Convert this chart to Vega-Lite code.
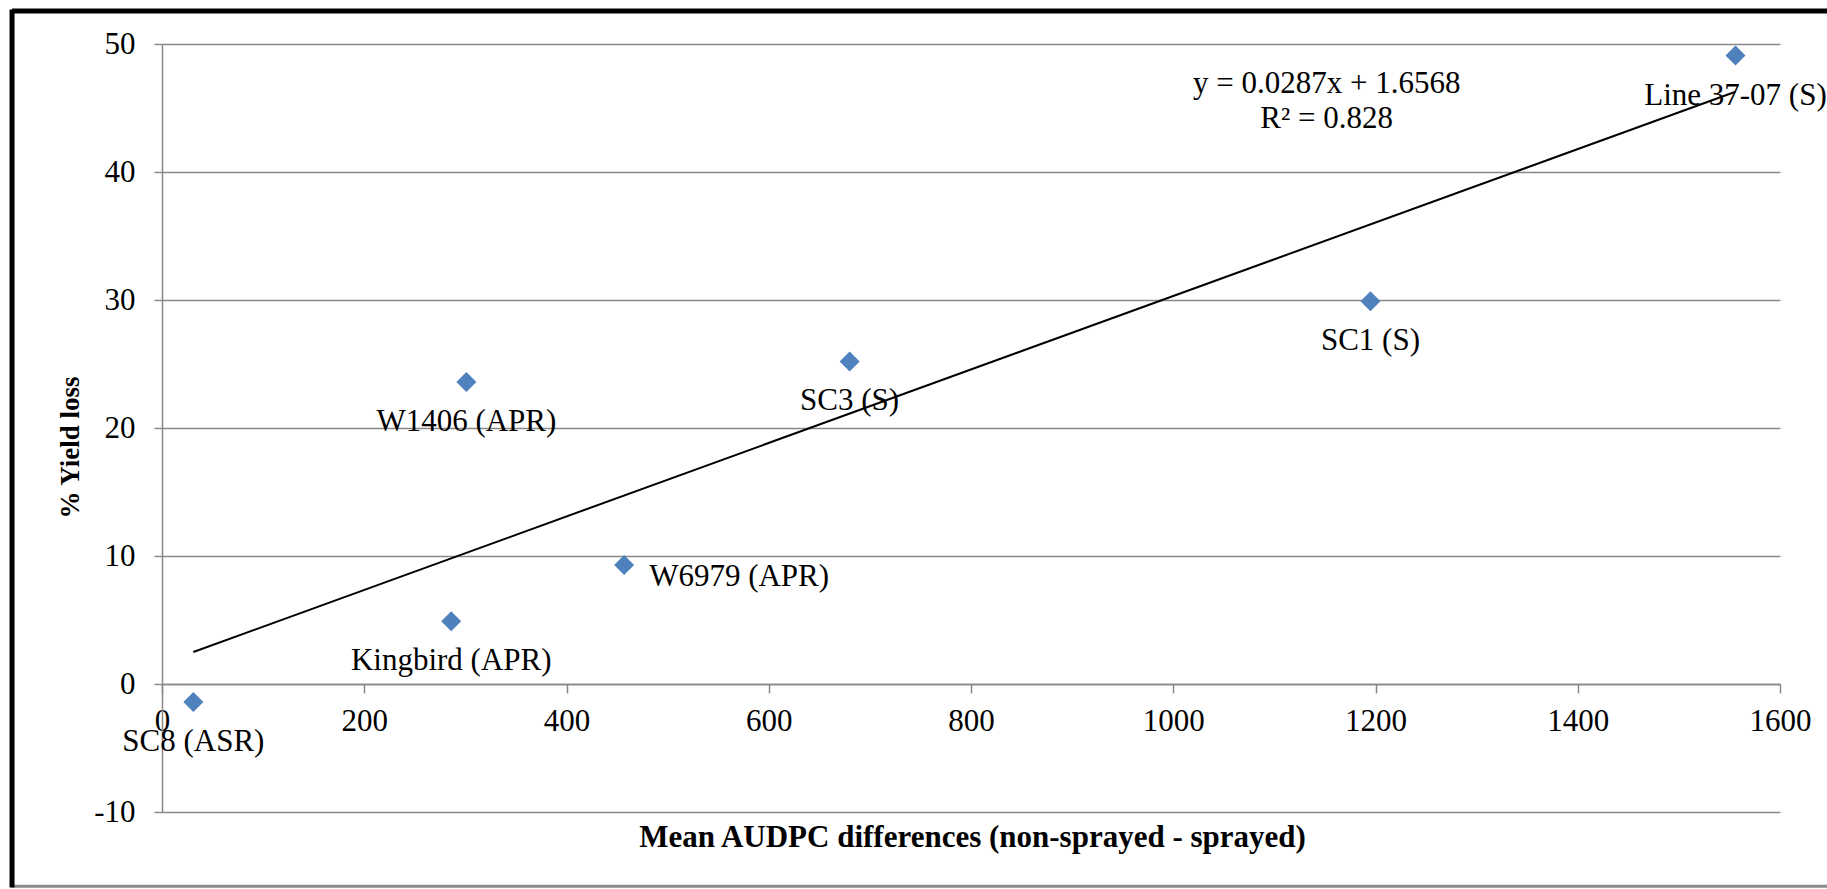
{
  "$schema": "https://vega.github.io/schema/vega-lite/v6.json",
  "width": 1618,
  "height": 768,
  "autosize": {"type": "none"},
  "padding": {"left": 162, "top": 44, "right": 47, "bottom": 77},
  "background": "white",
  "config": {
    "view": {"stroke": null},
    "font": "Liberation Serif",
    "text": {"font": "Liberation Serif"},
    "axis": {"labelFont": "Liberation Serif", "titleFont": "Liberation Serif"}
  },
  "data": {
    "values": [
      {"name": "SC8 (ASR)", "aud": 31, "yl": -1.4},
      {"name": "Kingbird (APR)", "aud": 286, "yl": 4.9},
      {"name": "W1406 (APR)", "aud": 301, "yl": 23.6},
      {"name": "W6979 (APR)", "aud": 457, "yl": 9.3},
      {"name": "SC3 (S)", "aud": 680, "yl": 25.2},
      {"name": "SC1 (S)", "aud": 1195, "yl": 29.9},
      {"name": "Line 37-07 (S)", "aud": 1556, "yl": 49.1}
    ]
  },
  "layer": [
    {
      "data": {"values": [{}]},
      "mark": {"type": "rule", "color": "black", "strokeWidth": 5},
      "encoding": {
        "x": {"datum": -148.3, "type": "quantitative", "scale": {"domain": [0, 1600], "nice": false, "zero": false}},
        "x2": {"datum": 1700},
        "y": {"datum": 52.58, "type": "quantitative", "scale": {"domain": [-10, 50], "nice": false, "zero": false}}
      }
    },
    {
      "data": {"values": [{}]},
      "mark": {"type": "rule", "color": "#8a8a8a", "strokeWidth": 3},
      "encoding": {
        "x": {"datum": -148.3, "type": "quantitative"},
        "x2": {"datum": 1700},
        "y": {"datum": -15.8, "type": "quantitative"}
      }
    },
    {
      "data": {"values": [{}]},
      "mark": {"type": "rule", "color": "black", "strokeWidth": 5},
      "encoding": {
        "x": {"datum": -148.3, "type": "quantitative"},
        "y": {"datum": 52.7, "type": "quantitative"},
        "y2": {"datum": -15.9}
      }
    },
    {
      "transform": [{"regression": "yl", "on": "aud"}],
      "mark": {"type": "line", "color": "black", "strokeWidth": 2},
      "encoding": {
        "x": {"field": "aud", "type": "quantitative"},
        "y": {"field": "yl", "type": "quantitative"}
      }
    },
    {
      "mark": {"type": "point", "shape": "diamond", "filled": true, "color": "#4F81BD", "size": 400, "opacity": 1},
      "encoding": {
        "x": {
          "field": "aud", "type": "quantitative",
          "axis": {
            "title": "Mean AUDPC differences (non-sprayed - sprayed)",
            "values": [0, 200, 400, 600, 800, 1000, 1200, 1400, 1600],
            "labelExpr": "'' + datum.value",
            "offset": -128,
            "grid": false,
            "domainColor": "#888888", "domainWidth": 1.5,
            "tickColor": "#888888", "tickWidth": 1.5, "tickSize": 9,
            "labelFont": "Liberation Serif", "labelFontSize": 31, "labelColor": "black",
            "labelPadding": 13, "labelFlush": false, "labelOverlap": false,
            "titleFont": "Liberation Serif", "titleFontSize": 31, "titleFontWeight": "bold", "titleColor": "black",
            "titleX": 810, "titleY": 162, "titleBaseline": "alphabetic", "titleAlign": "center"
          }
        },
        "y": {
          "field": "yl", "type": "quantitative",
          "axis": {
            "title": "% Yield loss",
            "values": [-10, 0, 10, 20, 30, 40, 50],
            "labelExpr": "'' + datum.value",
            "grid": true, "gridColor": "#888888", "gridWidth": 1.5,
            "domainColor": "#888888", "domainWidth": 1.5,
            "tickColor": "#888888", "tickWidth": 1.5, "tickSize": 8,
            "labelFont": "Liberation Serif", "labelFontSize": 31, "labelColor": "black",
            "labelPadding": 19, "labelOverlap": false,
            "titleFont": "Liberation Serif", "titleFontSize": 27, "titleFontWeight": "bold", "titleColor": "black",
            "titleX": -84, "titleY": 403, "titleBaseline": "alphabetic", "titleAngle": 270, "titleAlign": "center"
          }
        }
      }
    },
    {
      "transform": [{"filter": "datum.name !== 'W6979 (APR)'"}],
      "mark": {"type": "text", "font": "Liberation Serif", "fontSize": 31, "color": "black", "align": "center", "baseline": "middle", "dy": 40},
      "encoding": {
        "x": {"field": "aud", "type": "quantitative"},
        "y": {"field": "yl", "type": "quantitative"},
        "text": {"field": "name"}
      }
    },
    {
      "transform": [{"filter": "datum.name === 'W6979 (APR)'"}],
      "mark": {"type": "text", "font": "Liberation Serif", "fontSize": 31, "color": "black", "align": "left", "baseline": "middle", "dx": 25, "dy": 12},
      "encoding": {
        "x": {"field": "aud", "type": "quantitative"},
        "y": {"field": "yl", "type": "quantitative"},
        "text": {"field": "name"}
      }
    },
    {
      "data": {"values": [{}]},
      "mark": {"type": "text", "font": "Liberation Serif", "fontSize": 31, "color": "black", "align": "center", "baseline": "middle", "lineHeight": 35,
        "text": ["y = 0.0287x + 1.6568", "R² = 0.828"]},
      "encoding": {
        "x": {"datum": 1151.7, "type": "quantitative"},
        "y": {"datum": 46.9, "type": "quantitative"}
      }
    }
  ]
}
